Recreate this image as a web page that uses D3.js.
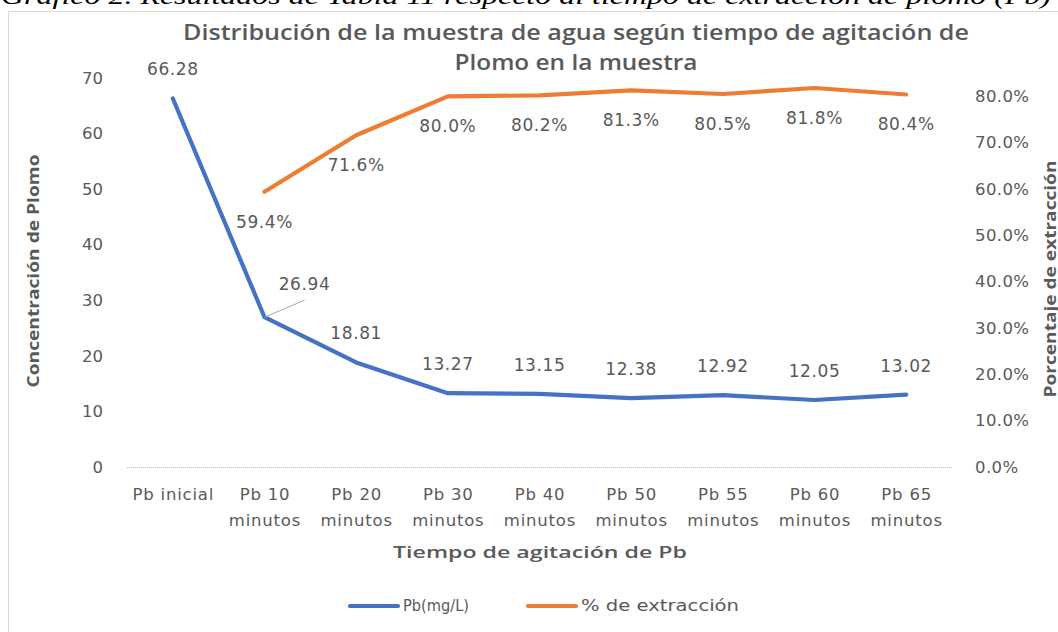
<!DOCTYPE html>
<html>
<head>
<meta charset="utf-8">
<script src="https://cdn.jsdelivr.net/npm/d3@7"></script>
<style>
  html, body { margin: 0; padding: 0; background: #fff; }
  svg { display: block; }
</style>
</head>
<body>
<svg id="chart" width="1058" height="632"></svg>
<script>
// ---- data ----
const categories = ["Pb inicial", "Pb 10 minutos", "Pb 20 minutos", "Pb 30 minutos", "Pb 40 minutos",
                    "Pb 50 minutos", "Pb 55 minutos", "Pb 60 minutos", "Pb 65 minutos"];
const pbValues = [66.28, 26.94, 18.81, 13.27, 13.15, 12.38, 12.92, 12.05, 13.02];
const extractionValues = [null, 0.594, 0.716, 0.800, 0.802, 0.813, 0.805, 0.818, 0.804];
const leftTicks = [0, 10, 20, 30, 40, 50, 60, 70];
const rightTicks = [0, 0.1, 0.2, 0.3, 0.4, 0.5, 0.6, 0.7, 0.8];
const seriesNames = ["Pb(mg/L)", "% de extracción"];

// ---- layout ----
const svg = d3.select("#chart");
const W = 1058, H = 632;
const plot = { left: 127, right: 952, top: 50, bottom: 467 };
const textColor = "#595959";
const blue = "#4472C4", orange = "#ED7D31";
const font = "'DejaVu Sans', Verdana, sans-serif";
const boldFont = "'Open Sans', 'Noto Sans', sans-serif";

svg.append("rect").attr("width", W).attr("height", H).attr("fill", "#fff");

// caption (partly cut at top, as in the source document)
svg.append("text")
  .attr("x", 1).attr("y", 4)
  .attr("font-family", "'Liberation Serif', 'DejaVu Serif', serif")
  .attr("font-style", "italic")
  .attr("font-size", 24)
  .attr("fill", "#000")
  .attr("textLength", 1050).attr("lengthAdjust", "spacingAndGlyphs")
  .text("Gráfico 2. Resultados de Tabla 11 respecto al tiempo de extracción de plomo (Pb)");

// chart frame
svg.append("rect")
  .attr("x", 8.5).attr("y", 11.5).attr("width", 1100).attr("height", 700)
  .attr("fill", "#fff").attr("stroke", "#d9d9d9").attr("stroke-width", 1);

// scales
const x = d3.scalePoint().domain(categories).range([plot.left, plot.right]).padding(0.5);
const yL = d3.scaleLinear().domain([0, 75]).range([plot.bottom, plot.top]);
const yR = d3.scaleLinear().domain([0, 0.9]).range([plot.bottom, plot.top]);

// title
const title = svg.append("g")
  .attr("font-family", boldFont).attr("font-weight", 600).attr("fill", textColor)
  .attr("font-size", 21).attr("text-anchor", "middle");
title.append("text").attr("x", 576).attr("y", 40)
  .attr("textLength", 786).attr("lengthAdjust", "spacingAndGlyphs")
  .text("Distribución de la muestra de agua según tiempo de agitación de");
title.append("text").attr("x", 576).attr("y", 70)
  .attr("textLength", 243).attr("lengthAdjust", "spacingAndGlyphs")
  .text("Plomo en la muestra");

// zero line (dotted)
svg.append("line")
  .attr("x1", plot.left).attr("x2", plot.right)
  .attr("y1", yL(0) + 0.5).attr("y2", yL(0) + 0.5)
  .attr("stroke", "#bfbfbf").attr("stroke-width", 1).attr("stroke-dasharray", "1,1");

// left axis
const gL = svg.append("g").attr("transform", `translate(${plot.left},0)`)
  .call(d3.axisLeft(yL).tickValues(leftTicks).tickSize(0).tickPadding(24).tickFormat(d3.format("d")));
gL.select(".domain").remove();
gL.selectAll("text").attr("font-family", font).attr("font-size", 16.5).attr("fill", textColor);

// right axis
const gR = svg.append("g").attr("transform", `translate(${plot.right},0)`)
  .call(d3.axisRight(yR).tickValues(rightTicks).tickSize(0).tickPadding(23).tickFormat(d3.format(".1%")));
gR.select(".domain").remove();
gR.selectAll("text").attr("font-family", font).attr("font-size", 16.5).attr("fill", textColor)
  .attr("letter-spacing", 0.4);

// bottom axis (category labels, two lines)
const gB = svg.append("g").attr("transform", `translate(0,${plot.bottom})`)
  .call(d3.axisBottom(x).tickSize(0).tickPadding(0).tickFormat(""));
gB.select(".domain").remove();
gB.selectAll(".tick").each(function(d) {
  const t = d3.select(this).select("text")
    .attr("font-family", font).attr("font-size", 16.5).attr("fill", textColor)
    .attr("letter-spacing", 0.8).attr("dy", null).attr("y", 0);
  const parts = d === "Pb inicial" ? [d] : [d.replace(" minutos", ""), "minutos"];
  parts.forEach((p, i) => {
    t.append("tspan").attr("x", 0).attr("y", 33 + i * 26).text(p);
  });
});

// axis titles
svg.append("text")
  .attr("transform", `translate(39,271) rotate(-90)`)
  .attr("text-anchor", "middle")
  .attr("font-family", boldFont).attr("font-weight", 700).attr("font-size", 16).attr("fill", textColor)
  .attr("textLength", 233).attr("lengthAdjust", "spacingAndGlyphs")
  .text("Concentración de Plomo");
svg.append("text")
  .attr("transform", `translate(1056,279) rotate(-90)`)
  .attr("text-anchor", "middle")
  .attr("font-family", boldFont).attr("font-weight", 700).attr("font-size", 16).attr("fill", textColor)
  .attr("textLength", 237).attr("lengthAdjust", "spacingAndGlyphs")
  .text("Porcentaje de extracción");
svg.append("text")
  .attr("x", 540).attr("y", 558)
  .attr("text-anchor", "middle")
  .attr("font-family", boldFont).attr("font-weight", 600).attr("font-size", 17).attr("fill", textColor)
  .attr("textLength", 294).attr("lengthAdjust", "spacingAndGlyphs")
  .text("Tiempo de agitación de Pb");

// lines
const pbData = categories.map((c, i) => ({ c, v: pbValues[i] }));
const exData = categories.map((c, i) => ({ c, v: extractionValues[i] })).filter(d => d.v != null);

svg.append("path").datum(exData)
  .attr("fill", "none").attr("stroke", orange).attr("stroke-width", 4.2)
  .attr("stroke-linejoin", "round").attr("stroke-linecap", "round")
  .attr("d", d3.line().x(d => x(d.c)).y(d => yR(d.v)));

svg.append("path").datum(pbData)
  .attr("fill", "none").attr("stroke", blue).attr("stroke-width", 4.2)
  .attr("stroke-linejoin", "round").attr("stroke-linecap", "round")
  .attr("d", d3.line().x(d => x(d.c)).y(d => yL(d.v)));

// data labels
const labelFmtPb = d3.format(".2f");
const labelFmtEx = d3.format(".1%");
const labels = svg.append("g").attr("font-family", font).attr("font-size", 17)
  .attr("fill", textColor).attr("text-anchor", "middle").attr("letter-spacing", 0.6);

pbData.forEach((d, i) => {
  const px = x(d.c), py = yL(d.v);
  if (i === 1) {
    // moved label with leader line
    svg.append("line")
      .attr("x1", px).attr("y1", py).attr("x2", px + 40).attr("y2", py - 17)
      .attr("stroke", "#a6a6a6").attr("stroke-width", 1);
    labels.append("text").attr("x", px + 40).attr("y", py - 27).text(labelFmtPb(d.v));
  } else {
    labels.append("text").attr("x", px).attr("y", py - 23).text(labelFmtPb(d.v));
  }
});
exData.forEach(d => {
  labels.append("text").attr("x", x(d.c)).attr("y", yR(d.v) + 36).text(labelFmtEx(d.v));
});

// legend
const legend = svg.append("g").attr("font-family", font).attr("font-size", 15).attr("fill", textColor);
const legendItems = [
  { name: seriesNames[0], color: blue, x: 350, len: 66 },
  { name: seriesNames[1], color: orange, x: 528, len: 158 }
];
legendItems.forEach(it => {
  legend.append("line").attr("x1", it.x).attr("x2", it.x + 48).attr("y1", 606).attr("y2", 606)
    .attr("stroke", it.color).attr("stroke-width", 4.2).attr("stroke-linecap", "round");
  legend.append("text").attr("x", it.x + 53).attr("y", 611)
    .attr("textLength", it.len).attr("lengthAdjust", "spacingAndGlyphs")
    .text(it.name);
});
</script>
</body>
</html>
